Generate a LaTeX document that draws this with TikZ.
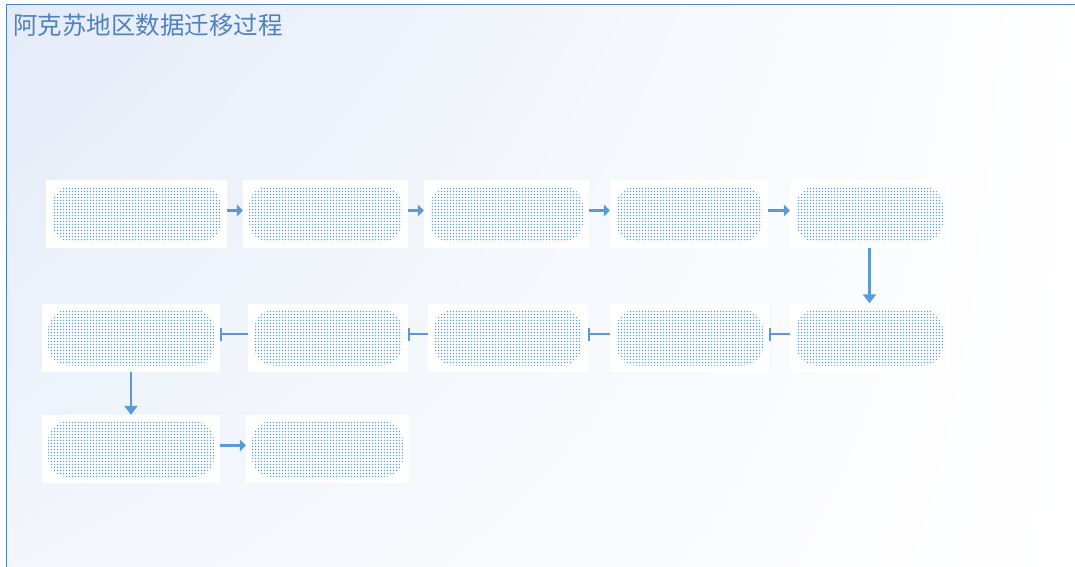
\documentclass[tikz,border=0pt]{standalone}
\usepackage{fontspec}
\newfontfamily\cjk{Noto Sans CJK SC}
\usepackage{tikz}
\usetikzlibrary{arrows.meta}
\usetikzlibrary{patterns}
\usetikzlibrary{shadings}

\definecolor{lineblue}{HTML}{5B9BD5}
\definecolor{frameblue}{HTML}{4A86C8}
\definecolor{titleblue}{HTML}{4F81BD}
\definecolor{dotblue}{HTML}{5B9BD5}
\definecolor{bgblue}{HTML}{E4EBF8}

% small square dots on a 3pt grid
\pgfdeclarepatternformonly{griddots}{\pgfqpoint{-1pt}{-1pt}}{\pgfqpoint{2pt}{2pt}}{\pgfqpoint{3pt}{3pt}}{
  \pgfpathrectangle{\pgfqpoint{0pt}{0pt}}{\pgfqpoint{1.9pt}{1.9pt}}
  \pgfusepath{fill}}

\begin{document}
\begin{tikzpicture}[x=1pt, y=-1pt,
    stepbox/.style={fill=white, inner sep=0pt, minimum height=68pt,
      path picture={\fill[pattern=griddots, pattern color=dotblue, rounded corners=20pt]
        ([shift={(6pt,6pt)}]path picture bounding box.south west) rectangle
        ([shift={(-6pt,-6pt)}]path picture bounding box.north east);}},
    flow/.style={draw=lineblue, line width=2.2pt, -{Triangle[length=6pt,width=12pt]}},
    back/.style={draw=lineblue, line width=2.2pt, -{Bar[width=13pt]}},
    down/.style={draw=lineblue, line width=2.2pt, -{Triangle[length=9pt,width=13pt]}}]
  \useasboundingbox (0,0) rectangle (1075,566);
  \clip (0,0) rectangle (1075,566);

  % frame and background
  \shade[upper left=bgblue, upper right=white, lower left=bgblue!45!white, lower right=white]
    (6,4) rectangle (1085,580);
  \draw[frameblue, line width=1.5pt] (6.5,4.5) rectangle (1085,580);
  \node[anchor=west, inner sep=0pt, text=titleblue, font=\cjk\fontsize{24.5}{24.5}\selectfont] (title) at (13,25) {阿克苏地区数据迁移过程};

  % first row
  \node[stepbox, minimum width=181pt] (b1) at (136.5,214) {};
  \node[stepbox, minimum width=165pt] (b2) at (325.5,214) {};
  \node[stepbox, minimum width=165pt] (b3) at (506.5,214) {};
  \node[stepbox, minimum width=158pt] (b4) at (689,214) {};
  \node[stepbox, minimum width=159pt] (b5) at (869.5,214) {};

  % second row
  \node[stepbox, minimum width=178pt] (c1) at (131,337.5) {};
  \node[stepbox, minimum width=160pt] (c2) at (328,337.5) {};
  \node[stepbox, minimum width=160pt] (c3) at (508,337.5) {};
  \node[stepbox, minimum width=159pt] (c4) at (689.5,337.5) {};
  \node[stepbox, minimum width=159pt] (c5) at (869.5,337.5) {};

  % third row
  \node[stepbox, minimum width=178pt] (d1) at (131,449) {};
  \node[stepbox, minimum width=163pt] (d2) at (327.5,449) {};

  \draw[flow] ([yshift=3.5pt]b1.east) -- ([yshift=3.5pt]b2.west);
  \draw[flow] ([yshift=3.5pt]b2.east) -- ([yshift=3.5pt]b3.west);
  \draw[flow] ([yshift=3.5pt]b3.east) -- ([yshift=3.5pt]b4.west);
  \draw[flow] ([yshift=3.5pt]b4.east) -- ([yshift=3.5pt]b5.west);
  \draw[down] (b5.south) -- (c5.north);

  \draw[back] ([yshift=3.5pt]c5.west) -- ([yshift=3.5pt]c4.east);
  \draw[back] ([yshift=3.5pt]c4.west) -- ([yshift=3.5pt]c3.east);
  \draw[back] ([yshift=3.5pt]c3.west) -- ([yshift=3.5pt]c2.east);
  \draw[back] ([yshift=3.5pt]c2.west) -- ([yshift=3.5pt]c1.east);
  \draw[down] (c1.south) -- (d1.north);

  \draw[flow] ([yshift=3.5pt]d1.east) -- ([yshift=3.5pt]d2.west);
\end{tikzpicture}
\end{document}
